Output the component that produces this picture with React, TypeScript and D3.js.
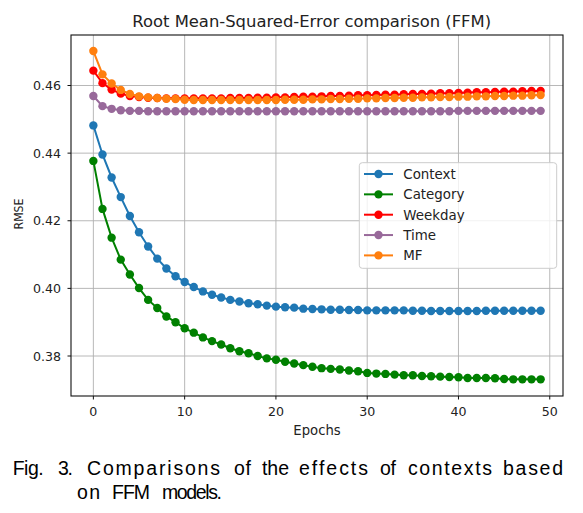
import React from "react";
import * as d3 from "d3";

const epochs: number[] = d3.range(0, 50);

const contextRmse: number[] = [
  0.4482, 0.4396, 0.4328, 0.427, 0.4214, 0.4166, 0.4124, 0.4088, 0.4059, 0.4036,
  0.4019, 0.4004, 0.3991, 0.3981, 0.3973, 0.3966, 0.3961, 0.3956, 0.3953, 0.3949,
  0.3946, 0.3944, 0.3943, 0.394, 0.3939, 0.3938, 0.3937, 0.3937, 0.3936, 0.3936,
  0.3935, 0.3935, 0.3935, 0.3935, 0.3935, 0.3934, 0.3934, 0.3933, 0.3933, 0.3933,
  0.3933, 0.3933, 0.3933, 0.3934, 0.3934, 0.3934, 0.3934, 0.3934, 0.3934, 0.3934,
];

const categoryRmse: number[] = [
  0.4377, 0.4235, 0.415, 0.4085, 0.4041, 0.4001, 0.3966, 0.3942, 0.3917, 0.39,
  0.3882, 0.3869, 0.3855, 0.3844, 0.3834, 0.3823, 0.3814, 0.3808, 0.38, 0.3793,
  0.3789, 0.3783, 0.3778, 0.3773, 0.3768, 0.3764, 0.3762, 0.376, 0.3757, 0.3755,
  0.375, 0.3748, 0.3747, 0.3745, 0.3743, 0.3743, 0.3741, 0.374, 0.3739, 0.3738,
  0.3737, 0.3735, 0.3735, 0.3735, 0.3734, 0.3732, 0.3731, 0.3731, 0.3731, 0.3731,
];

const weekdayRmse: number[] = [
  0.4644, 0.4607, 0.4588, 0.4576, 0.4569, 0.4566, 0.4564, 0.4563, 0.4562, 0.4562,
  0.4562, 0.4562, 0.4562, 0.4562, 0.4562, 0.4563, 0.4563, 0.4563, 0.4564, 0.4564,
  0.4565, 0.4565, 0.4566, 0.4567, 0.4567, 0.4568, 0.4569, 0.4569, 0.457, 0.4571,
  0.4571, 0.4572, 0.4573, 0.4573, 0.4574, 0.4575, 0.4575, 0.4576, 0.4577, 0.4577,
  0.4578, 0.4579, 0.458, 0.458, 0.4581, 0.4582, 0.4582, 0.4583, 0.4584, 0.4584,
];

const timeRmse: number[] = [
  0.4569, 0.4539, 0.4531, 0.4527, 0.4525, 0.4525, 0.4524, 0.4524, 0.4524, 0.4524,
  0.4524, 0.4524, 0.4524, 0.4524, 0.4524, 0.4524, 0.4524, 0.4524, 0.4524, 0.4524,
  0.4524, 0.4524, 0.4524, 0.4524, 0.4524, 0.4524, 0.4524, 0.4524, 0.4524, 0.4524,
  0.4524, 0.4524, 0.4524, 0.4524, 0.4524, 0.4524, 0.4524, 0.4524, 0.4524, 0.4524,
  0.4525, 0.4525, 0.4525, 0.4525, 0.4525, 0.4525, 0.4525, 0.4525, 0.4525, 0.4525,
];

const mfRmse: number[] = [
  0.4702, 0.4633, 0.4606, 0.4587, 0.4575, 0.4568, 0.4565, 0.4563, 0.4561, 0.456,
  0.4558, 0.4557, 0.4557, 0.4557, 0.4557, 0.4557, 0.4557, 0.4557, 0.4557, 0.4557,
  0.4557, 0.4558, 0.4558, 0.4558, 0.4559, 0.4559, 0.456, 0.456, 0.4561, 0.4561,
  0.4562, 0.4562, 0.4563, 0.4563, 0.4564, 0.4564, 0.4565, 0.4565, 0.4566, 0.4566,
  0.4567, 0.4567, 0.4568, 0.4568, 0.4569, 0.4569, 0.457, 0.457, 0.4571, 0.4572,
];

const seriesNames: string[] = ["Context", "Category", "Weekday", "Time", "MF"];
const seriesColors: string[] = ["#1f77b4", "#008000", "#ff0000", "#98699a", "#ff7f0e"];
const seriesValues: number[][] = [contextRmse, categoryRmse, weekdayRmse, timeRmse, mfRmse];

const xTicks: number[] = [0, 10, 20, 30, 40, 50];
const yTicks: number[] = [0.38, 0.4, 0.42, 0.44, 0.46];

const titleText = "Root Mean-Squared-Error comparison (FFM)";
const xLabel = "Epochs";
const yLabel = "RMSE";
const captionWords1: string[] = ["Fig.", "3.", "Comparisons", "of", "the", "effects", "of", "contexts", "based"];
const captionWords2: string[] = ["on", "FFM", "models."];

const captionLayout1: [number, number][] = [
  [12.7, 31], [58, 15], [87, 133], [234, 17], [262, 27], [299, 69], [380, 16], [408, 84], [503, 60],
];
const captionLayout2: [number, number][] = [
  [77, 23], [112, 38], [162, 60],
];

const W = 583;
const H = 513;
const plot = { left: 71, right: 563, top: 35, bottom: 396 };
const FONT = "'DejaVu Sans', sans-serif";
const CAPFONT = "'Liberation Sans', Arial, sans-serif";

export default function App() {
  const x = d3.scaleLinear().domain([-2.45, 51.45]).range([plot.left, plot.right]);
  const y = d3.scaleLinear().domain([0.36817, 0.47494]).range([plot.bottom, plot.top]);
  const line = d3
    .line<number>()
    .x((_, i) => x(epochs[i]))
    .y((v) => y(v));

  const legendX = 359.3;
  const legendY = 162.7;
  const legendRowY = (i: number) => 174 + i * 20.35;

  return (
    <svg
      width={W}
      height={H}
      style={{ position: "absolute", left: 0, top: 0, background: "#fff" }}
    >
      <rect x={0} y={0} width={W} height={H} fill="#fff" />
      {xTicks.map((t) => (
        <line
          key={"gx" + t}
          x1={x(t)}
          x2={x(t)}
          y1={plot.top}
          y2={plot.bottom}
          stroke="#b0b0b0"
          strokeWidth={0.9}
        />
      ))}
      {yTicks.map((t) => (
        <line
          key={"gy" + t}
          x1={plot.left}
          x2={plot.right}
          y1={y(t)}
          y2={y(t)}
          stroke="#b0b0b0"
          strokeWidth={0.9}
        />
      ))}
      {seriesValues.map((vals, si) => (
        <g key={seriesNames[si]}>
          <path d={line(vals) || ""} fill="none" stroke={seriesColors[si]} strokeWidth={2} />
          {vals.map((v, i) => (
            <circle key={i} cx={x(epochs[i])} cy={y(v)} r={4.2} fill={seriesColors[si]} />
          ))}
        </g>
      ))}
      <rect
        x={plot.left}
        y={plot.top}
        width={plot.right - plot.left}
        height={plot.bottom - plot.top}
        fill="none"
        stroke="#111"
        strokeWidth={1.1}
      />
      {xTicks.map((t) => (
        <g key={"xt" + t}>
          <line x1={x(t)} x2={x(t)} y1={plot.bottom} y2={plot.bottom + 3.5} stroke="#111" strokeWidth={1} />
          <text x={x(t)} y={416} textAnchor="middle" fontFamily={FONT} fontSize={12.6} fill="#222">
            {t}
          </text>
        </g>
      ))}
      {yTicks.map((t) => (
        <g key={"yt" + t}>
          <line x1={plot.left - 3.5} x2={plot.left} y1={y(t)} y2={y(t)} stroke="#111" strokeWidth={1} />
          <text
            x={61}
            y={y(t)}
            dy="0.36em"
            textAnchor="end"
            fontFamily={FONT}
            fontSize={12.6}
            fill="#222"
          >
            {d3.format(".2f")(t)}
          </text>
        </g>
      ))}
      <text x={311.7} y={27.3} textAnchor="middle" fontFamily={FONT} fontSize={16.4} fill="#222">
        {titleText}
      </text>
      <text x={317} y={435} textAnchor="middle" fontFamily={FONT} fontSize={13.2} fill="#222">
        {xLabel}
      </text>
      <text
        transform={`translate(23.3, 214) rotate(-90)`}
        textAnchor="middle"
        fontFamily={FONT}
        fontSize={12.2}
        fill="#222"
        textLength={31}
        lengthAdjust="spacingAndGlyphs"
      >
        {yLabel}
      </text>
      <rect
        x={legendX}
        y={legendY}
        width={197.4}
        height={105.6}
        rx={3}
        fill="#fff"
        fillOpacity={0.8}
        stroke="#cccccc"
        strokeWidth={1}
      />
      {seriesNames.map((name, i) => (
        <g key={"lg" + name}>
          <line
            x1={364}
            x2={393}
            y1={legendRowY(i)}
            y2={legendRowY(i)}
            stroke={seriesColors[i]}
            strokeWidth={2}
          />
          <circle cx={378.5} cy={legendRowY(i)} r={4.2} fill={seriesColors[i]} />
          <text x={403.3} y={legendRowY(i)} dy="0.36em" fontFamily={FONT} fontSize={13.4} fill="#222">
            {name}
          </text>
        </g>
      ))}
      {captionWords1.map((w, i) => (
        <text
          key={"c1" + i}
          x={captionLayout1[i][0]}
          y={474.5}
          textLength={captionLayout1[i][1]}
          lengthAdjust="spacing"
          fontFamily={CAPFONT}
          fontSize={19.5}
          fill="#000"
        >
          {w}
        </text>
      ))}
      {captionWords2.map((w, i) => (
        <text
          key={"c2" + i}
          x={captionLayout2[i][0]}
          y={499}
          textLength={captionLayout2[i][1]}
          lengthAdjust="spacing"
          fontFamily={CAPFONT}
          fontSize={19.5}
          fill="#000"
        >
          {w}
        </text>
      ))}
    </svg>
  );
}
